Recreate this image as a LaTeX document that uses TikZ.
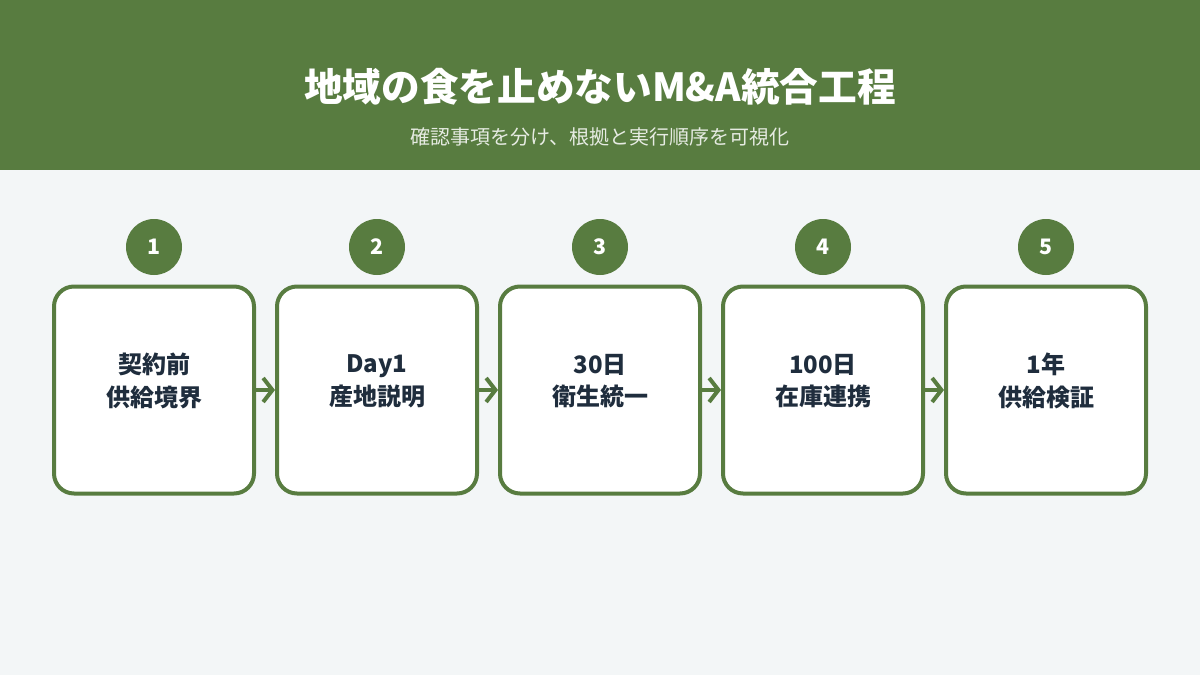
\documentclass[tikz,border=0pt]{standalone}
\usepackage{fontspec}
\setmainfont{Noto Sans CJK JP}
\usetikzlibrary{arrows.meta}
\definecolor{gr}{HTML}{587C40}
\definecolor{bg}{HTML}{F3F6F7}
\definecolor{tx}{HTML}{1F2D3D}
\begin{document}
\begin{tikzpicture}[x=0.75pt,y=-0.75pt,
 box/.style={draw=gr,line width=3pt,fill=white,rounded corners=15pt,minimum width=200pt*0.75,minimum height=207pt*0.75,inner sep=0pt},
 num/.style={circle,fill=gr,minimum size=42pt,inner sep=0pt,text=white,font=\bfseries\fontsize{16}{18}\selectfont},
 lab/.style={text=tx,font=\bfseries\fontsize{18}{24.5}\selectfont,align=center},
 conn/.style={gr,line width=3pt,-{Straight Barb[length=7pt,width=18pt,line width=3pt]}}]
\fill[bg] (0,0) rectangle (1200,675);
\fill[gr] (0,0) rectangle (1200,170);
\node[text=white,font=\bfseries\fontsize{29}{32}\selectfont] (t) at (600,87) {地域の食を止めないM\&A統合工程};
\node[text=white!85!gr,font=\fontsize{15}{18}\selectfont] (s) at (600,137) {確認事項を分け、根拠と実行順序を可視化};
\foreach \i/\x/\a/\b in {1/154/契約前/供給境界,2/377/Day1/産地説明,3/600/30日/衛生統一,4/823/100日/在庫連携,5/1046/1年/供給検証}{
 \node[box] (b\i) at (\x,390) {};
 \node[lab] (l\i) at (\x,381) {\a\\\b};
 \node[num] (n\i) at (\x,247) {\i};
}
\foreach \i/\j in {1/2,2/3,3/4,4/5}{\draw[conn] (b\i.east) -- (b\j.west);}
\end{tikzpicture}
\end{document}
